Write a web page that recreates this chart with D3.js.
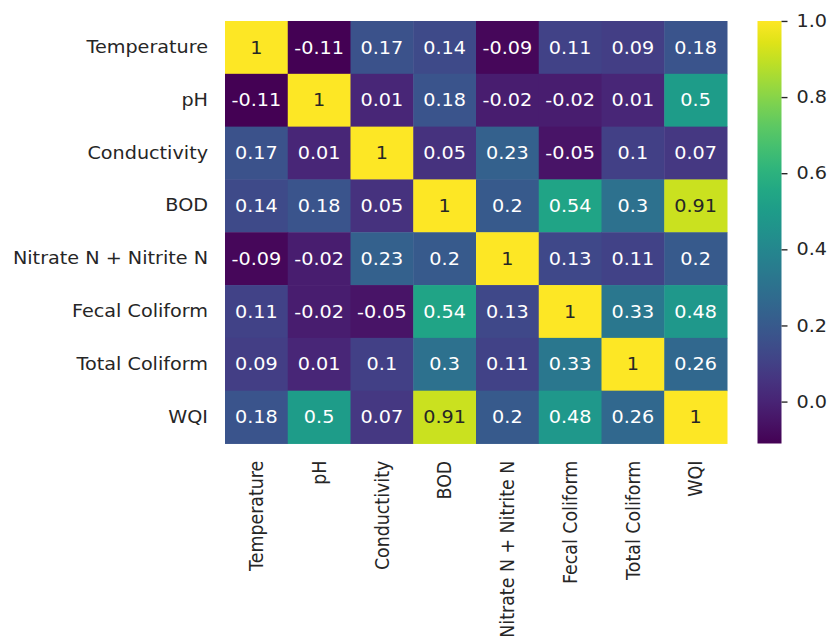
<!DOCTYPE html>
<html><head><meta charset="utf-8">
<script src="https://cdn.jsdelivr.net/npm/d3@7"></script>
<style>body{margin:0;background:#fff;} text{font-family:"DejaVu Sans",sans-serif;}</style>
</head><body>
<svg id="chart" width="831" height="637"></svg>
<script>
const categories = ["Temperature","pH","Conductivity","BOD","Nitrate N + Nitrite N","Fecal Coliform","Total Coliform","WQI"];
const correlations = [
  [1, -0.11, 0.17, 0.14, -0.09, 0.11, 0.09, 0.18],
  [-0.11, 1, 0.01, 0.18, -0.02, -0.02, 0.01, 0.5],
  [0.17, 0.01, 1, 0.05, 0.23, -0.05, 0.1, 0.07],
  [0.14, 0.18, 0.05, 1, 0.2, 0.54, 0.3, 0.91],
  [-0.09, -0.02, 0.23, 0.2, 1, 0.13, 0.11, 0.2],
  [0.11, -0.02, -0.05, 0.54, 0.13, 1, 0.33, 0.48],
  [0.09, 0.01, 0.1, 0.3, 0.11, 0.33, 1, 0.26],
  [0.18, 0.5, 0.07, 0.91, 0.2, 0.48, 0.26, 1]
];
const colorbarTicks = [0.0, 0.2, 0.4, 0.6, 0.8, 1.0];
const vmin = -0.11, vmax = 1.0;

// the figure is slightly squeezed vertically
const sy = 0.907;
const svg = d3.select("#chart");
const root = svg.append("g").attr("transform", `scale(1,${sy})`);
const mLeft = 225, mTop = 21 / sy, pw = 502, ph = 422.5 / sy;
const fs = 19.2, txt = "#262626";
const x = d3.scaleBand().domain(categories).range([mLeft, mLeft + pw]);
const y = d3.scaleBand().domain(categories).range([mTop, mTop + ph]);
const color = d3.scaleSequential(d3.interpolateViridis).domain([vmin, vmax]);

const cells = [];
correlations.forEach((row, i) => row.forEach((v, j) => cells.push({r: categories[i], c: categories[j], v})));

root.append("g").selectAll("rect").data(cells).join("rect")
  .attr("x", d => x(d.c)).attr("y", d => y(d.r))
  .attr("width", x.bandwidth() + 0.5).attr("height", y.bandwidth() + 0.5)
  .attr("fill", d => color(d.v));

function lum(c){ const o = d3.rgb(c); const f = v => { v/=255; return v<=0.03928? v/12.92 : Math.pow((v+0.055)/1.055,2.4); }; return 0.2126*f(o.r)+0.7152*f(o.g)+0.0722*f(o.b); }
root.append("g").selectAll("text").data(cells).join("text")
  .attr("x", d => x(d.c) + x.bandwidth()/2).attr("y", d => y(d.r) + y.bandwidth()/2)
  .attr("text-anchor", "middle").attr("dominant-baseline", "central")
  .attr("font-size", fs)
  .attr("fill", d => lum(color(d.v)) > 0.408 ? txt : "#ffffff")
  .text(d => String(d.v));

// y labels
const yAxis = root.append("g").attr("transform", `translate(${mLeft},0)`)
  .call(d3.axisLeft(y).tickSize(0).tickPadding(17));
yAxis.select(".domain").remove();
yAxis.selectAll("text").attr("font-size", fs).attr("fill", txt).attr("font-family", "DejaVu Sans");

// x labels rotated
const xAxis = root.append("g").attr("transform", `translate(0,${mTop + ph})`)
  .call(d3.axisBottom(x).tickSize(0).tickPadding(0));
xAxis.select(".domain").remove();
xAxis.selectAll("text").attr("font-size", fs).attr("fill", txt).attr("font-family", "DejaVu Sans")
  .attr("transform", "rotate(-90)").attr("text-anchor", "end")
  .attr("x", -19).attr("y", 0).attr("dy", "0.35em");

// colorbar
const cbx = 757.5, cbw = 24;
const cy = d3.scaleLinear().domain([vmin, vmax]).range([mTop + ph, mTop]);
const defs = svg.append("defs");
const grad = defs.append("linearGradient").attr("id", "cb").attr("x1", 0).attr("y1", 1).attr("x2", 0).attr("y2", 0);
d3.range(0, 1.0001, 0.05).forEach(t => grad.append("stop").attr("offset", t).attr("stop-color", color(vmin + t*(vmax - vmin))));
root.append("rect").attr("x", cbx).attr("y", mTop).attr("width", cbw).attr("height", ph).attr("fill", "url(#cb)");
const cAxis = root.append("g").attr("transform", `translate(${cbx + cbw},0)`)
  .call(d3.axisRight(cy).tickValues(colorbarTicks).tickFormat(d3.format(".1f")).tickSize(6).tickPadding(9));
cAxis.select(".domain").remove();
cAxis.selectAll("line").attr("stroke", txt).attr("stroke-width", 1.5);
cAxis.selectAll("text").attr("font-size", fs).attr("fill", txt).attr("font-family", "DejaVu Sans");
</script>
</body></html>
